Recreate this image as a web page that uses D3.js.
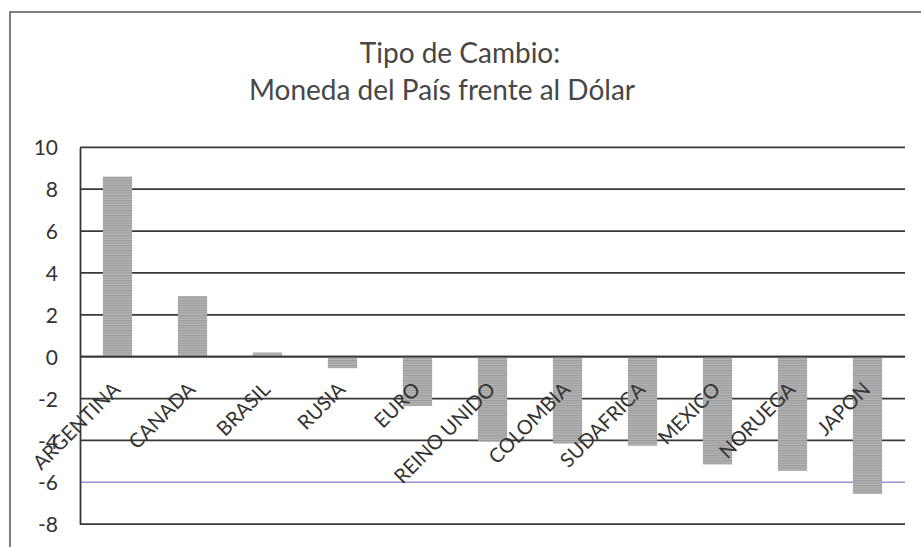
<!DOCTYPE html>
<html>
<head>
<meta charset="utf-8">
<script src="https://cdn.jsdelivr.net/npm/d3@7/dist/d3.min.js"></script>
<style>
html,body{margin:0;padding:0;background:#fff;}
svg{display:block;}
</style>
</head>
<body>
<svg id="chart" width="921" height="547"></svg>
<script>
const categories = ["ARGENTINA","CANADA","BRASIL","RUSIA","EURO","REINO UNIDO","COLOMBIA","SUDAFRICA","MEXICO","NORUEGA","JAPON"];
const values = [8.6, 2.9, 0.2, -0.55, -2.35, -4.05, -4.15, -4.25, -5.15, -5.45, -6.55];
const yTicks = [10, 8, 6, 4, 2, 0, -2, -4, -6, -8];
const titleLines = ["Tipo de Cambio:", "Moneda del País frente al Dólar"];

const svg = d3.select("#chart");
const W = 921, H = 547;
const m = {left: 80, right: 16, top: 147.3, bottom: 23};
const plotW = W - m.left - m.right;
const FONT = "Lato, 'Open Sans', sans-serif";

// outer frame (top + left)
svg.append("path")
  .attr("d", `M10,${H} L10,12 L${W},12`)
  .attr("fill", "none").attr("stroke", "#555").attr("stroke-width", 1.5);

// pattern for bars
const defs = svg.append("defs");
const pat = defs.append("pattern").attr("id", "stripes")
  .attr("patternUnits", "userSpaceOnUse").attr("width", 4).attr("height", 2.5);
pat.append("rect").attr("width", 4).attr("height", 2.5).attr("fill", "#b3b3b3");
pat.append("rect").attr("width", 4).attr("height", 1).attr("fill", "#999");

const x = d3.scaleBand().domain(categories).range([m.left, m.left + plotW]).paddingInner(0.61).paddingOuter(0.305);
const y = d3.scaleLinear().domain([-8, 10]).range([524.2, m.top]);

// gridlines
svg.append("g").selectAll("line").data(yTicks).join("line")
  .attr("x1", m.left).attr("x2", m.left + plotW)
  .attr("y1", d => y(d)).attr("y2", d => y(d))
  .attr("stroke", d => d === -6 ? "#9891cc" : "#383838")
  .attr("stroke-width", d => d === -6 ? 1.5 : 1.8);

// y axis
const yAxis = d3.axisLeft(y).tickValues(yTicks).tickSize(0).tickPadding(22).tickFormat(d => String(d));
const gy = svg.append("g").attr("transform", `translate(${m.left},0)`).call(yAxis);
gy.select(".domain").attr("stroke", "#383838").attr("stroke-width", 1.8);
gy.selectAll("text").attr("font-family", FONT).attr("font-size", 21).attr("fill", "#333").attr("dy", "0.36em");

// bars
svg.append("g").selectAll("rect").data(values).join("rect")
  .attr("x", (d, i) => x(categories[i]))
  .attr("width", x.bandwidth())
  .attr("y", d => y(Math.max(0, d)))
  .attr("height", d => Math.abs(y(d) - y(0)))
  .attr("fill", "url(#stripes)");

// zero line over bars
svg.append("line").attr("x1", m.left).attr("x2", m.left + plotW)
  .attr("y1", y(0)).attr("y2", y(0)).attr("stroke", "#383838").attr("stroke-width", 1.8);

// category labels
svg.append("g").selectAll("text").data(categories).join("text")
  .attr("transform", d => `translate(${x(d) + x.bandwidth() / 2 + 4},${y(0) + 34}) rotate(-45)`)
  .attr("text-anchor", "end")
  .attr("font-family", FONT)
  .attr("font-size", 20)
  .attr("fill", "#333")
  .text(d => d);

// title
svg.append("g").selectAll("text").data(titleLines).join("text")
  .attr("x", (d, i) => i === 0 ? 460 : 442).attr("y", (d, i) => 63 + i * 37)
  .attr("text-anchor", "middle")
  .attr("font-family", FONT)
  .attr("font-size", 28)
  .attr("fill", "#474747")
  .text(d => d);
</script>
</body>
</html>
